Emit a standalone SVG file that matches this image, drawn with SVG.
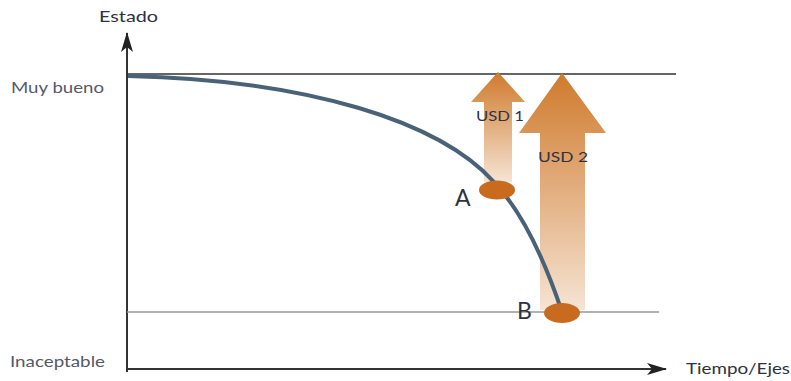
<svg xmlns="http://www.w3.org/2000/svg" width="791" height="381" viewBox="0 0 791 381">
<defs>
<linearGradient id="g1" x1="0" y1="0" x2="0" y2="1">
<stop offset="0" stop-color="#cf7a2c"/>
<stop offset="1" stop-color="#f6e4d4"/>
</linearGradient>
<marker id="ah2" viewBox="0 0 20 12" markerWidth="20" markerHeight="12" refX="19" refY="6" orient="auto" markerUnits="userSpaceOnUse">
<path d="M0,0 L20,6 L0,12 L5,6 Z" fill="#222"/>
</marker>
</defs>
<style>
.lbl{font-family:"Lato","Liberation Sans",sans-serif;fill:#2e3242}
.axis{stroke:#333;stroke-width:2;fill:none}
</style>
<g id="axes">
<line class="axis" x1="127" y1="372" x2="127" y2="33" marker-end="url(#ah2)"/>
<line class="axis" x1="126" y1="369" x2="666" y2="369" marker-end="url(#ah2)"/>
<line x1="127" y1="74" x2="676" y2="74" stroke="#333" stroke-width="1.5"/>
<line x1="127" y1="312" x2="659" y2="312" stroke="#999" stroke-width="1.5"/>
</g>
<g id="arrows">
<path d="M498,72 L525,102 L512,102 L512,182 L484,182 L484,102 L471,102 Z" fill="url(#g1)"/>
<path d="M562,73 L606,133 L585,133 L585,310 L540,310 L540,133 L519,133 Z" fill="url(#g1)"/>
</g>
<g id="connectors">
<path d="M128,76 C 310,80 440,122 494,182 C 525,215 548,270 562,312" fill="none" stroke="#4a6278" stroke-width="4"/>
</g>
<g id="nodeA">
<ellipse cx="497" cy="190" rx="18" ry="9.5" fill="#c96b1e"/>
<text class="lbl" x="455" y="206" font-size="23" fill="#1e2230">A</text>
</g>
<g id="nodeB">
<ellipse cx="562" cy="313" rx="18" ry="10" fill="#c96b1e"/>
<text class="lbl" x="517" y="319" font-size="23" fill="#1e2230">B</text>
</g>
<g id="labels">
<text class="lbl" x="476" y="121" font-size="13" textLength="48" lengthAdjust="spacingAndGlyphs">USD 1</text>
<text class="lbl" x="538" y="162" font-size="13" textLength="50" lengthAdjust="spacingAndGlyphs">USD 2</text>
<text class="lbl" x="99" y="22" font-size="15" textLength="59" lengthAdjust="spacingAndGlyphs">Estado</text>
<text class="lbl" x="11" y="93" font-size="15" style="fill:#55596a" textLength="93" lengthAdjust="spacingAndGlyphs">Muy bueno</text>
<text class="lbl" x="10" y="367" font-size="15" style="fill:#55596a" textLength="95" lengthAdjust="spacingAndGlyphs">Inaceptable</text>
<text class="lbl" x="686" y="374" font-size="15" textLength="104" lengthAdjust="spacingAndGlyphs">Tiempo/Ejes</text>
</g>
</svg>
